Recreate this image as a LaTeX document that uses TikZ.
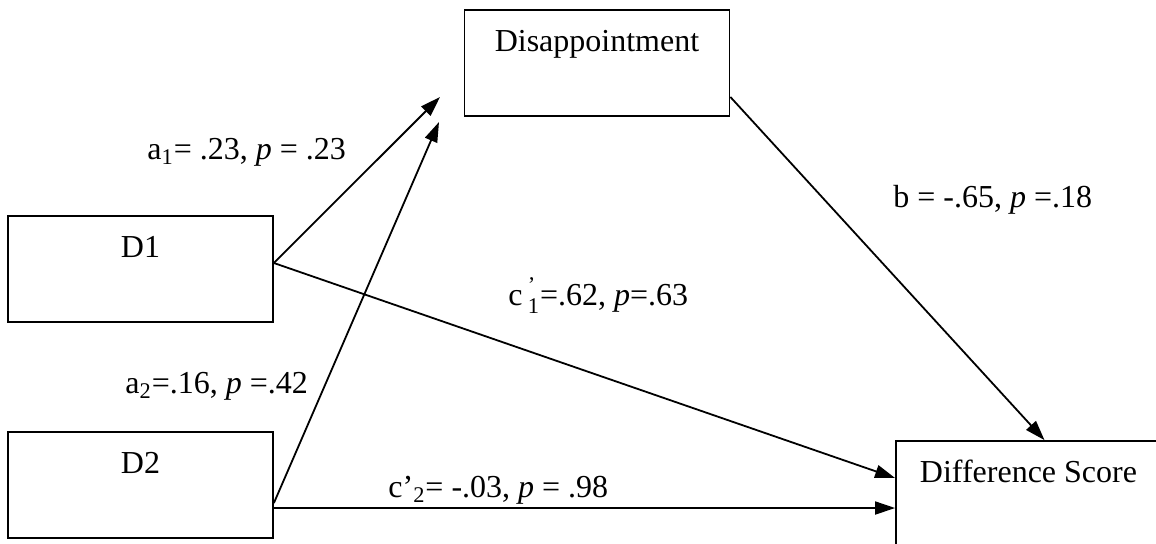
\documentclass[tikz,border=0pt]{standalone}
\usepackage{amsmath}
\usepackage{fontspec}
\setmainfont{Liberation Serif}
\usetikzlibrary{arrows.meta}

\begin{document}
\begin{tikzpicture}[x=0.5pt, y=-0.5pt, >={Triangle[length=10pt,width=6.5pt]},
    varbox/.style={draw, line width=0.9pt, minimum width=132.5pt, inner sep=0pt,
        text height=20.5pt, text depth=32.5pt, font=\fontsize{16}{19}\selectfont},
    coef/.style={anchor=base west, inner sep=0pt, font=\fontsize{16}{19}\selectfont},
    effect/.style={->, line width=0.9pt}]
    % Canvas  (pixels, y pointing down)
    \clip (0,0) rectangle (1156,543);

    % Variables
    \node[varbox] (dis) at (597,63) {Disappointment};
    \node[varbox] (d1) at (140.5,269) {D1};
    \node[varbox] (d2) at (140.5,485) {D2};
    \node[varbox] (diff) at (1028.5,494) {Difference Score};

    % Free ends of the a-paths (they stop short of the box)
    \coordinate (a1tip) at (440,97);
    \coordinate (a2tip) at (439,122);

    % a paths
    \draw[effect] ([yshift=3pt]d1.east) -- (a1tip);
    \draw[effect] ([yshift=-9pt]d2.east) -- (a2tip);

    % b path
    \draw[effect] ([yshift=-17pt]dis.east) -- ([xshift=8pt]diff.north);

    % Direct paths c'
    \draw[effect] ([yshift=3pt]d1.east) -- ([yshift=8pt]diff.west);
    \draw[effect] ([yshift=-11.5pt]d2.east) -- ([yshift=-7pt]diff.west);

    % Coefficients
    \node[coef] (la1) at (147,159) {a\textsubscript{1}= .23, \textit{p} = .23};
    \node[coef] (la2) at (125,393) {a\textsubscript{2}=.16, \textit{p} =.42};
    \node[coef] (lb) at (893,207) {b = -.65, \textit{p} =.18};
    \node[coef] (lc1) at (508,305) {c\,$^{\text{’}}_{\text{1}}$=.62, \textit{p}=.63};
    \node[coef] (lc2) at (388,497) {c’\textsubscript{2}= -.03, \textit{p} = .98};
\end{tikzpicture}
\end{document}
